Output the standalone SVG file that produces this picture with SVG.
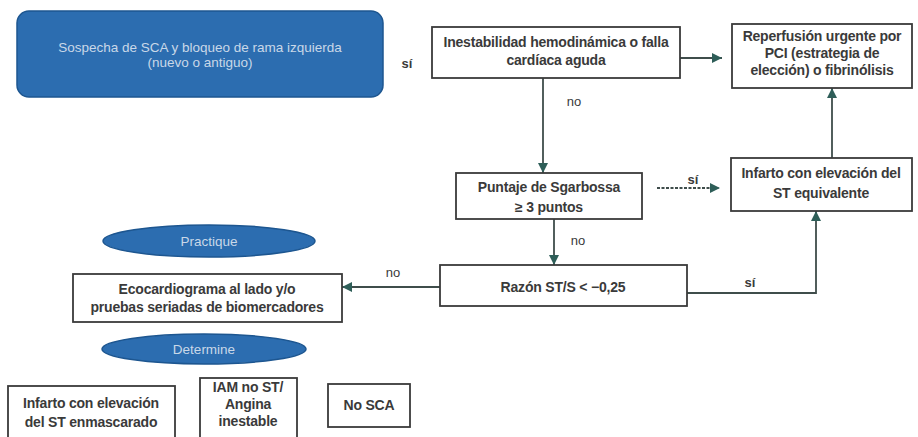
<svg xmlns="http://www.w3.org/2000/svg" width="918" height="437" viewBox="0 0 918 437">
<defs>
<style>
.box{fill:#ffffff;stroke:#3a3a3a;stroke-width:1.8}
.blue{fill:#2c6db0;stroke:#1d5690;stroke-width:1.5}
.t{font-family:"Liberation Sans",Arial,sans-serif;font-size:14px;font-weight:bold;fill:#3a3a3a;text-anchor:middle;letter-spacing:-0.2px}
.lt{font-family:"Liberation Sans",Arial,sans-serif;font-size:13.5px;fill:#c9d8e8;text-anchor:middle}
.lab{font-family:"Liberation Sans",Arial,sans-serif;font-size:13px;fill:#3a3a3a;text-anchor:middle}
.labb{font-family:"Liberation Sans",Arial,sans-serif;font-size:13px;font-weight:bold;fill:#3a3a3a;text-anchor:middle}
.c{fill:none;stroke:#3f4d4b;stroke-width:1.8}
</style>
<marker id="ah" markerUnits="userSpaceOnUse" markerWidth="10" markerHeight="10" refX="10" refY="5" orient="auto">
<path d="M0,0 L10,5 L0,10 z" fill="#2e5e58"/>
</marker>
</defs>
<rect width="918" height="437" fill="#ffffff"/>

<g id="connectors">
<path class="c" d="M680,58 H722" marker-end="url(#ah)"/>
<path class="c" d="M543,78 V173" marker-end="url(#ah)"/>
<path class="c" d="M657,188 H720" stroke-dasharray="3,1.5" marker-end="url(#ah)"/>
<path class="c" d="M832,158 V88" marker-end="url(#ah)"/>
<path class="c" d="M554,219 V265" marker-end="url(#ah)"/>
<path class="c" d="M687,293 H816 V211" marker-end="url(#ah)"/>
<path class="c" d="M440,287 H342" marker-end="url(#ah)"/>
<text class="labb" x="407" y="68">sí</text>
<text class="lab" x="574" y="106">no</text>
<text class="labb" x="693" y="184" font-size="11">sí</text>
<text class="lab" x="578" y="245">no</text>
<text class="labb" x="750" y="287">sí</text>
<text class="lab" x="393" y="277">no</text>
</g>

<g id="n_sospecha">
<rect class="blue" x="17" y="11" width="366" height="86" rx="12"/>
<text class="lt" x="200" y="52">Sospecha de SCA y bloqueo de rama izquierda</text>
<text class="lt" x="200" y="67">(nuevo o antiguo)</text>
</g>

<g id="n_inestabilidad">
<rect class="box" x="432" y="27" width="248" height="51"/>
<text class="t" x="556" y="47">Inestabilidad hemodinámica o falla</text>
<text class="t" x="556" y="65">cardíaca aguda</text>
</g>

<g id="n_reperfusion">
<rect class="box" x="732" y="24" width="180" height="64"/>
<text class="t" x="822" y="41">Reperfusión urgente por</text>
<text class="t" x="822" y="58">PCI (estrategia de</text>
<text class="t" x="822" y="75">elección) o fibrinólisis</text>
</g>

<g id="n_puntaje">
<rect class="box" x="456" y="173" width="186" height="46"/>
<text class="t" x="549" y="192">Puntaje de Sgarbossa</text>
<text class="t" x="549" y="212">≥ 3 puntos</text>
</g>

<g id="n_infarto_eq">
<rect class="box" x="731" y="158" width="181" height="53"/>
<text class="t" x="821" y="178">Infarto con elevación del</text>
<text class="t" x="821" y="198">ST equivalente</text>
</g>

<g id="n_razon">
<rect class="box" x="440" y="265" width="247" height="41"/>
<text class="t" x="563" y="292">Razón ST/S &lt; −0,25</text>
</g>

<g id="n_eco">
<rect class="box" x="73" y="274" width="269" height="48"/>
<text class="t" x="207" y="294">Ecocardiograma al lado y/o</text>
<text class="t" x="207" y="312">pruebas seriadas de biomercadores</text>
</g>

<g id="n_practique">
<ellipse class="blue" cx="209" cy="241" rx="106" ry="16"/>
<text class="lt" x="209" y="246" font-size="13">Practique</text>
</g>

<g id="n_determine">
<ellipse class="blue" cx="204" cy="349" rx="102" ry="15"/>
<text class="lt" x="204" y="354" font-size="13">Determine</text>
</g>

<g id="n_enmascarado">
<rect class="box" x="8" y="386" width="167" height="60"/>
<text class="t" x="91" y="408">Infarto con elevación</text>
<text class="t" x="91" y="427">del ST enmascarado</text>
</g>

<g id="n_iam">
<rect class="box" x="200" y="378" width="97" height="70"/>
<text class="t" x="248" y="392">IAM no ST/</text>
<text class="t" x="248" y="409">Angina</text>
<text class="t" x="248" y="426">inestable</text>
</g>

<g id="n_nosca">
<rect class="box" x="328" y="384" width="82" height="43"/>
<text class="t" x="369" y="410">No SCA</text>
</g>
</svg>
